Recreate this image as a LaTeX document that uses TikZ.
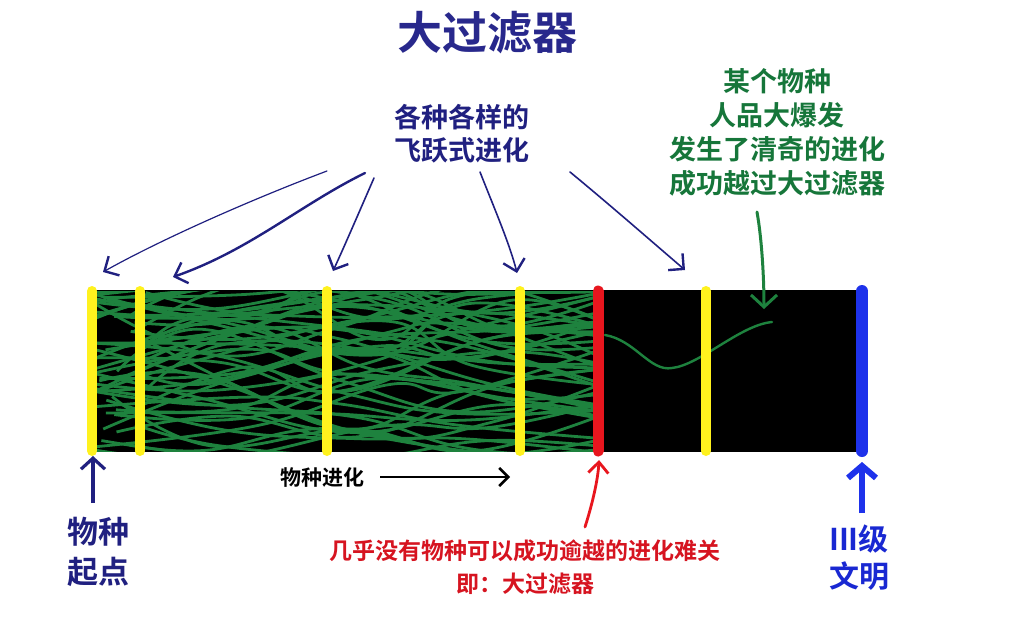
\documentclass[tikz,border=0pt]{standalone}
\usepackage{fontspec}
\newfontfamily\cjk{Noto Sans CJK SC Bold}
\usetikzlibrary{arrows.meta}
\definecolor{navy}{RGB}{32,32,128}
\definecolor{titlec}{RGB}{40,40,140}
\definecolor{grn}{RGB}{30,130,62}
\definecolor{gtext}{RGB}{22,118,58}
\definecolor{ylw}{RGB}{255,242,30}
\definecolor{redc}{RGB}{232,22,30}
\definecolor{redt}{RGB}{214,20,32}
\definecolor{bluec}{RGB}{30,50,235}
\definecolor{bluet}{RGB}{25,40,210}
\begin{document}
\begin{tikzpicture}[x=1pt,y=-1pt,
  bar/.style={line width=10pt,line cap=round},
  hand/.style={navy,line width=1.6pt,line cap=round,-{Straight Barb[length=11pt,width=22pt,line width=2.4pt]}},
  lbl/.style={font=\cjk,align=center,inner sep=0pt}]
\useasboundingbox (0,0) rectangle (1024,621);
\fill[white] (0,0) rectangle (1024,621);
% title
\node[lbl,titlec,font=\cjk\fontsize{45}{50}\selectfont] (title) at (487,33) {大过滤器};
% black bar
\fill[black] (92,290) rectangle (862,452);
% green tangle
\begin{scope}
\clip (92,291) rectangle (598,451);
\pgfmathsetseed{11}
\foreach \i in {1,...,60}{
  \pgfmathsetmacro\ya{290+162*rnd}
  \pgfmathsetmacro\yb{max(285,min(458,\ya+110*(rnd-0.5)))}
  \pgfmathsetmacro\yc{max(285,min(458,\yb+110*(rnd-0.5)))}
  \pgfmathsetmacro\yd{max(285,min(458,\yc+110*(rnd-0.5)))}
  \pgfmathsetmacro\ye{max(285,min(458,\yd+110*(rnd-0.5)))}
  \pgfmathsetmacro\xa{60+90*rnd}
  \pgfmathsetmacro\xb{200+60*rnd}
  \pgfmathsetmacro\xc{330+60*rnd}
  \pgfmathsetmacro\xd{460+60*rnd}
  \draw[grn,line width=2.8pt] plot[smooth,tension=0.7] coordinates {(\xa,\ya) (\xb,\yb) (\xc,\yc) (\xd,\yd) (640,\ye)};
}
\end{scope}
% single survivor
\coordinate (s0) at (605,335);
\coordinate (s1) at (772,322);
\draw[grn,line width=2.4pt,line cap=round] (s0) .. controls (635,340) and (650,372) .. (672,368) .. controls (700,365) and (740,325) .. (s1);
% yellow and red and blue lines
\foreach \x/\n in {92/y1,140/y2,327/y3,520/y4,706/y5}{
  \draw[bar,ylw] (\x,291) -- (\x,451);
  \coordinate (\n) at (\x,286);
}
\draw[bar,redc,line width=11pt] (598,291) -- (598,451);
\coordinate (rb) at (599,460);
\draw[bar,bluec,line width=12pt] (862,291) -- (862,451);
% top labels
\node[lbl,navy,font=\cjk\fontsize{27}{33}\selectfont] (jump) at (462,134) {各种各样的\\飞跃式进化};
\node[lbl,gtext,font=\cjk\fontsize{27}{34}\selectfont] (lucky) at (777,132) {某个物种\\人品大爆发\\发生了清奇的进化\\成功越过大过滤器};
% navy arrows
\coordinate (a1s) at (327,171); \coordinate (a1e) at (103,272);
\coordinate (a2s) at (365,173); \coordinate (a2e) at (173,277);
\coordinate (a3s) at (374,178); \coordinate (a3e) at (333,271);
\coordinate (a4s) at (480,172); \coordinate (a4e) at (517,273);
\coordinate (a5s) at (570,172); \coordinate (a5e) at (685,270);
\draw[hand,line width=1.2pt] (a1s) .. controls (250,200) and (160,240) .. (a1e);
\draw[hand,line width=2.4pt] (a2s) .. controls (300,205) and (250,250) .. (a2e);
\draw[hand] (a3s) .. controls (360,210) and (345,245) .. (a3e);
\draw[hand] (a4s) .. controls (495,210) and (510,245) .. (a4e);
\draw[hand] (a5s) .. controls (610,205) and (650,240) .. (a5e);
% green arrow
\coordinate (gs) at (757,212);
\coordinate (ge) at (764,309);
\draw[grn,line width=3pt,line cap=round,-{Straight Barb[length=12pt,width=26pt,line width=3pt]}] (gs) .. controls (762,240) and (764,280) .. (ge);
% bottom labels
\node[lbl,black,font=\cjk\fontsize{21}{25}\selectfont] (evo) at (322,477) {物种进化};
\coordinate (evoe) at (510,477);
\draw[black,line width=2.6pt,-{Straight Barb[length=9pt,width=18pt,line width=2.6pt]}] (evo.east)++(16,0) -- (evoe);
\node[lbl,navy,font=\cjk\fontsize{31}{40}\selectfont] (origin) at (98,552) {物种\\起点};
\coordinate (o0) at (93,503);
\coordinate (o1) at (93,456);
\draw[navy,line width=3.2pt,-{Straight Barb[length=11pt,width=24pt,line width=3.2pt]}] (o0) -- (o1);
\node[lbl,redt,font=\cjk\fontsize{23}{33}\selectfont] (filter) at (525,567) {几乎没有物种可以成功逾越的进化难关\\即：大过滤器};
\coordinate (r0) at (585,527);
\draw[redc,line width=2.8pt,line cap=round,-{Straight Barb[length=11pt,width=20pt,line width=2.8pt]}] (r0) .. controls (592,505) and (598,480) .. (rb);
\node[lbl,bluet,font=\cjk\fontsize{30}{37}\selectfont] (civ) at (859,558) {III级\\文明};
\coordinate (b0) at (862,513);
\coordinate (b1) at (862,462);
\draw[bluec,line width=6pt,-{Straight Barb[length=12pt,width=28pt,line width=6pt]}] (b0) -- (b1);
\end{tikzpicture}
\end{document}
